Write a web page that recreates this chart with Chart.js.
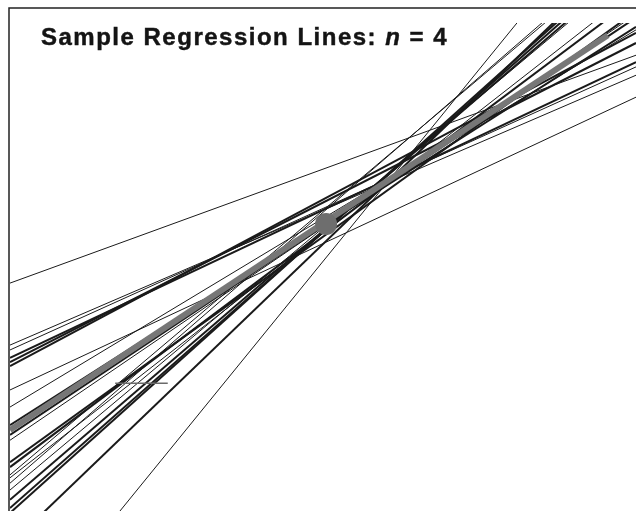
<!DOCTYPE html>
<html>
<head>
<meta charset="utf-8">
<script src="https://cdn.jsdelivr.net/npm/chart.js@4/dist/chart.umd.min.js"></script>
<style>
  html, body { margin: 0; padding: 0; background: #fff; overflow: hidden; }
  #wrap { position: relative; width: 636px; height: 511px; }
  #title {
    position: absolute; left: 41px; top: 25px;
    font: bold 24px "Liberation Sans", Arial, sans-serif;
    line-height: 24px; letter-spacing: 1.5px; color: #141414; white-space: nowrap;
    -webkit-text-stroke: 0.45px #141414;
  }
</style>
</head>
<body>
<div id="wrap">
  <canvas id="c" width="636" height="511"></canvas>
  <div id="title">Sample Regression Lines: <i>n</i> = 4</div>
</div>
<script>
// each sample line is given by its height at the left (x=0) and right (x=100) side
const lineX = [0, 100];
const lineLeftY  = [46.7, 34.0, 33.0, 31.4, 30.5, 29.7, 24.8, 21.3, 17.6, 15.6, 14.5, 10.0, 9.0, 6.8, 4.3, 2.3, 0.6, -0.4, -6.9, 7.4, 5.7, -27.7];
const lineRightY = [93.4, 89.3, 91.0, 92.0, 95.9, 98.0, 84.8, 98.6, 99.2, 101.1, 101.8, 102.4, 105.2, 107.0, 111.7, 112.5, 113.7, 114.7, 116.3, 115.8, 116.7, 130.0];
const lineWeight = [1, 1, 1, 2, 2, 2, 1, 1, 2, 2, 1, 2, 2, 1, 1, 2, 2, 2, 2, 1, 1, 1];

// population line and mean point
const trueLineX = [0, 95.5];
const trueLineY = [16.6, 97.5];
const meanPoint = [50.5, 58.8];

// small stray segment
const stubX = [16.8, 25.2];
const stubY = [26.2, 26.2];

const datasets = [];

// first dataset is drawn on top
datasets.push({
  data: [{ x: meanPoint[0], y: meanPoint[1] }],
  showLine: false,
  pointRadius: 11,
  pointBackgroundColor: '#6e6e6e',
  pointBorderWidth: 0,
});

datasets.push({
  data: [{ x: trueLineX[0], y: trueLineY[0] }, { x: trueLineX[1], y: trueLineY[1] }],
  showLine: true,
  borderColor: '#777777',
  borderWidth: 6,
  pointRadius: 0,
});

datasets.push({
  data: [{ x: stubX[0], y: stubY[0] }, { x: stubX[1], y: stubY[1] }],
  showLine: true,
  borderColor: '#6a6a6a',
  borderWidth: 1.5,
  pointRadius: 0,
});

lineLeftY.forEach((ly, i) => {
  datasets.push({
    data: [{ x: lineX[0], y: ly }, { x: lineX[1], y: lineRightY[i] }],
    showLine: true,
    borderColor: '#1a1a1a',
    borderWidth: lineWeight[i] === 2 ? 2 : 1,
    pointRadius: 0,
  });
});

const framePlugin = {
  id: 'frame',
  afterDraw(chart) {
    const ctx = chart.ctx;
    ctx.save();
    ctx.strokeStyle = '#222';
    ctx.lineWidth = 1.5;
    ctx.beginPath();
    ctx.moveTo(9, 511);
    ctx.lineTo(9, 8);
    ctx.lineTo(636, 8);
    ctx.stroke();
    ctx.restore();
  }
};

new Chart(document.getElementById('c'), {
  type: 'scatter',
  data: { datasets },
  options: {
    responsive: false,
    animation: false,
    layout: { autoPadding: false, padding: { left: 10, top: 23, right: 0, bottom: 0 } },
    scales: {
      x: { type: 'linear', min: 0, max: 100, display: false },
      y: { type: 'linear', min: 0, max: 100, display: false },
    },
    plugins: {
      legend: { display: false },
      tooltip: { enabled: false },
      title: { display: false },
    },
  },
  plugins: [framePlugin],
});
</script>
</body>
</html>
